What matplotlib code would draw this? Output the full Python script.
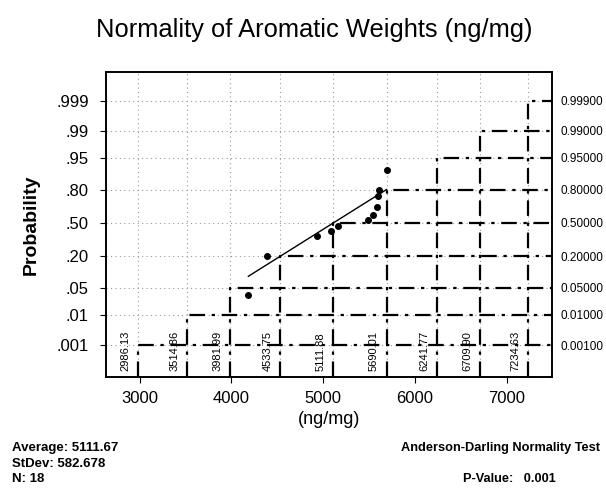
import math
import numpy as np
import matplotlib
matplotlib.use('Agg')
import matplotlib.pyplot as plt

plt.rcParams['font.family'] = ['Liberation Sans', 'DejaVu Sans']

# probability levels and step positions (ng/mg)
prob_levels = [0.001, 0.01, 0.05, 0.20, 0.50, 0.80, 0.95, 0.99, 0.999]
left_labels = ['.001', '.01', '.05', '.20', '.50', '.80', '.95', '.99', '.999']
right_labels = ['0.00100', '0.01000', '0.05000', '0.20000', '0.50000',
                '0.80000', '0.95000', '0.99000', '0.99900']
step_x = [2986.13, 3514.86, 3981.99, 4533.75, 5111.88, 5690.01, 6241.77, 6709.90, 7234.63]
step_text = ['2986.13', '3514.86', '3981.99', '4533.75', '5111.88',
             '5690.01', '6241.77', '6709.90', '7234.63']

# visible data points (value, cumulative probability)
pts_x = [4185, 4392, 4930, 5086, 5166, 5492, 5540, 5584, 5601, 5609, 5690]
pts_p = [0.035, 0.20, 0.37, 0.42, 0.47, 0.53, 0.58, 0.66, 0.75, 0.80, 0.91]

# fitted line end points
line_x = [4185, 5690.01]
line_p = [0.0885, 0.80]


def probit(p):
    # inverse of the normal cdf, by bisection
    lo, hi = -10.0, 10.0
    for _ in range(80):
        mid = (lo + hi) / 2
        if 0.5 * (1 + math.erf(mid / math.sqrt(2))) < p:
            lo = mid
        else:
            hi = mid
    return (lo + hi) / 2


z_levels = [probit(p) for p in prob_levels]

fig = plt.figure(figsize=(6.06, 4.9), dpi=100)
ax = fig.add_axes([0.175, 0.231, 0.736, 0.622])
xmin, xmax = 2635, 7493
ymin, ymax = -3.89, 3.81
ax.set_xlim(xmin, xmax)
ax.set_ylim(ymin, ymax)

# light dotted grid
for x in step_x:
    ax.axvline(x, color='#999999', ls=(0, (1, 3)), lw=0.8, zorder=1)
for z in z_levels:
    ax.axhline(z, color='#999999', ls=(0, (1, 3)), lw=0.8, zorder=1)

# step lines
for x, z in zip(step_x, z_levels):
    ax.plot([x, x, xmax], [ymin, z, z], color='black', ls=(0, (7, 3, 1.5, 3)),
            lw=1.6, zorder=2)

for x, t in zip(step_x, step_text):
    ax.annotate(t, xy=(x, ymin), xytext=(-9, 4), textcoords='offset points',
                rotation=90, ha='center', va='bottom', fontsize=8, zorder=3)

ax.plot(line_x, [probit(p) for p in line_p], color='black', lw=1.0, zorder=4)
ax.scatter(pts_x, [probit(p) for p in pts_p], s=16, color='black', zorder=5)

ax.set_yticks(z_levels)
ax.set_yticklabels(left_labels, fontsize=12)
ax.tick_params(axis='y', length=4.5, width=0.8, pad=8)
ax.set_xticks([3000, 4000, 5000, 6000, 7000])
ax.set_xticklabels(['3000', '4000', '5000', '6000', '7000'], fontsize=12)
ax.tick_params(axis='x', length=4, width=0.8, pad=6)

ax2 = ax.twinx()
ax2.set_ylim(ymin, ymax)
ax2.set_yticks(z_levels)
ax2.set_yticklabels(right_labels, fontsize=8.5)
ax2.tick_params(axis='y', length=0, pad=6)

for a in (ax, ax2):
    for s in a.spines.values():
        s.set_linewidth(1.2)

ax.set_ylabel('Probability', fontsize=14, fontweight='bold', labelpad=12)
ax.set_xlabel('(ng/mg)', fontsize=13, labelpad=4)

fig.text(0.518, 0.939, 'Normality of Aromatic Weights (ng/mg)', ha='center',
         va='center', fontsize=18.4)

fig.text(0.02, 0.086, 'Average: 5111.67', fontsize=9.5, fontweight='bold', va='center')
fig.text(0.02, 0.053, 'StDev: 582.678', fontsize=9.5, fontweight='bold', va='center')
fig.text(0.02, 0.022, 'N: 18', fontsize=9.5, fontweight='bold', va='center')
fig.text(0.99, 0.086, 'Anderson-Darling Normality Test', fontsize=9.2,
         fontweight='bold', va='center', ha='right')
fig.text(0.764, 0.022, 'P-Value:   0.001', fontsize=9.2, fontweight='bold', va='center')

fig.savefig('out.png', dpi=100)
